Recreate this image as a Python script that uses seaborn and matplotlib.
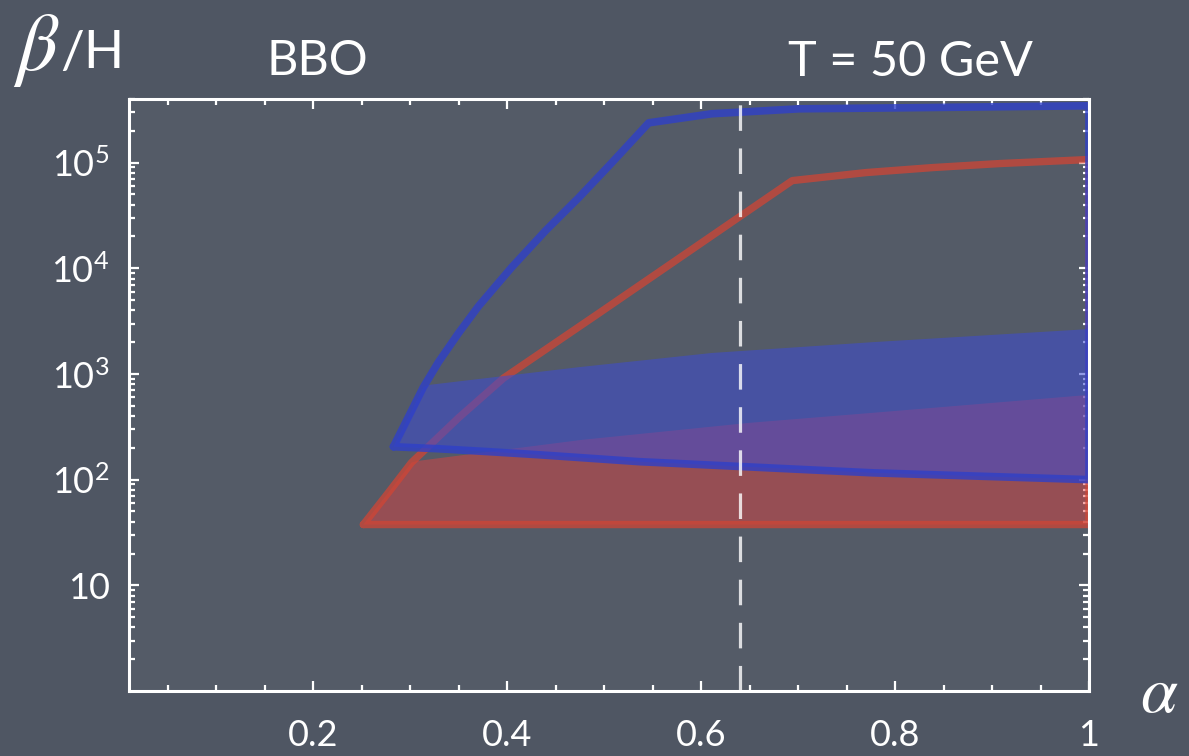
import matplotlib
matplotlib.use("Agg")
import matplotlib.pyplot as plt
import matplotlib.ticker as mticker
import pandas as pd
import seaborn as sns

# Upper edge of the red sensitivity region (alpha, beta/H); the floor is flat
red_edge_alpha = [0.2517, 0.2775, 0.3013, 0.3499, 0.3964, 0.4946, 0.5979, 0.694,
                  0.770, 0.839, 0.908, 1.0]
red_edge_beta = [37.6, 75.4, 145, 385, 916, 3760, 16800, 67600,
                 80500, 89800, 98000, 107000]
red_floor_beta = 37.6

# Blue sensitivity region: upper edge and lower edge
blue_edge_alpha = [0.2827, 0.2982, 0.3137, 0.3292, 0.3499, 0.3705, 0.4046, 0.4398,
                   0.474, 0.508, 0.546, 0.611, 0.701, 0.805, 1.0]
blue_edge_beta = [205, 393, 754, 1297, 2440, 4385, 10200, 22800,
                  46800, 100000, 238000, 290000, 323000, 330000, 345000]
blue_floor_alpha = [0.2827, 0.329, 0.381, 0.4326, 0.536, 0.777, 1.0]
blue_floor_beta = [205, 196, 184, 172, 148, 116, 100]

# Upper edges of the shaded prediction bands
blue_band_alpha = [0.3189, 0.474, 0.611, 0.777, 1.0]
blue_band_beta = [787, 1160, 1580, 2000, 2660]
red_band_alpha = [0.307, 0.357, 0.477, 0.580, 0.650, 0.777, 1.0]
red_band_beta = [150, 172, 238, 297, 345, 429, 634]

alpha_marker = 0.64

x_ticks = [0.2, 0.4, 0.6, 0.8, 1.0]
x_tick_labels = ["0.2", "0.4", "0.6", "0.8", "1"]
y_ticks = [10, 1e2, 1e3, 1e4, 1e5]
y_tick_labels = ["10", r"$10^{2}$", r"$10^{3}$", r"$10^{4}$", r"$10^{5}$"]

BG_OUT = "#4f5663"
BG_IN = "#545b67"
BLUE_LINE = "#2f40c8"
BLUE_FILL = "#3d4cd2"
RED_LINE = "#d04535"
RED_FILL = "#e8403f"
WHITE = "#ffffff"

sns.set_theme(style="ticks")
plt.rcParams["font.family"] = ["Lato", "DejaVu Sans"]
plt.rcParams["font.weight"] = "normal"
plt.rcParams["mathtext.default"] = "regular"

fig = plt.figure(figsize=(11.89, 7.56), dpi=100)
fig.patch.set_facecolor(BG_OUT)
ax = fig.add_axes([129 / 1189, 1 - 691 / 756, 960 / 1189, 592 / 756])
ax.set_facecolor(BG_IN)
ax.set_yscale("log")
ax.set_xlim(0.01, 1.0)
ax.set_ylim(1, 4e5)

# Shaded bands, each bounded on the left by its region's edge
red_lead = [(a, b) for a, b in zip(red_edge_alpha, red_edge_beta) if a < red_band_alpha[0]]
red_px = [p[0] for p in red_lead] + red_band_alpha + [1.0, red_edge_alpha[0]]
red_py = [p[1] for p in red_lead] + red_band_beta + [red_floor_beta, red_floor_beta]
ax.fill(red_px, red_py, color=RED_FILL, alpha=0.45, lw=0, zorder=1)

# Red region outline
red_outline = pd.DataFrame({
    "alpha": red_edge_alpha + [1.0, red_edge_alpha[0], red_edge_alpha[0]],
    "beta": red_edge_beta + [red_floor_beta, red_floor_beta, red_edge_beta[0]],
})
sns.lineplot(data=red_outline, x="alpha", y="beta", sort=False, estimator=None,
             color=RED_LINE, alpha=0.75, lw=5.3, ax=ax, zorder=2,
             solid_joinstyle="round")

blue_lead = [(a, b) for a, b in zip(blue_edge_alpha, blue_edge_beta) if a < blue_band_alpha[0]]
blue_px = [p[0] for p in blue_lead] + blue_band_alpha + blue_floor_alpha[::-1]
blue_py = [p[1] for p in blue_lead] + blue_band_beta + blue_floor_beta[::-1]
ax.fill(blue_px, blue_py, color=BLUE_FILL, alpha=0.56, lw=0, zorder=3)

# Blue region outline
blue_outline = pd.DataFrame({
    "alpha": blue_edge_alpha + blue_floor_alpha[::-1],
    "beta": blue_edge_beta + blue_floor_beta[::-1],
})
sns.lineplot(data=blue_outline, x="alpha", y="beta", sort=False, estimator=None,
             color=BLUE_LINE, alpha=0.8, lw=5.5, ax=ax, zorder=4,
             solid_joinstyle="round")

# Reference value of alpha
ax.axvline(alpha_marker, color="white", lw=2.3, alpha=0.8, dashes=(8, 5.5), zorder=5)

# Axes styling
for s in ax.spines.values():
    s.set_color(WHITE)
    s.set_linewidth(2.2)
    s.set_zorder(6)
ax.set_xticks(x_ticks, x_tick_labels)
ax.set_yticks(y_ticks, y_tick_labels)
ax.xaxis.set_minor_locator(mticker.MultipleLocator(0.05))
ax.yaxis.set_minor_locator(mticker.LogLocator(base=10, subs=range(2, 10), numticks=20))
ax.yaxis.set_minor_formatter(mticker.NullFormatter())
ax.tick_params(which="both", direction="in", top=True, right=True,
               colors=WHITE, width=1.6)
ax.tick_params(which="major", length=7)
ax.tick_params(which="minor", length=4)
ax.tick_params(axis="x", which="major", labelsize=26, pad=20, labelcolor=WHITE)
ax.tick_params(axis="y", which="major", labelsize=26, pad=14, labelcolor=WHITE)
ax.set_xlabel("")
ax.set_ylabel("")

# Headings and axis symbols
fig.text(16 / 1189, 1 - 70 / 756, "β", family="STIXGeneral", style="italic",
         fontsize=58, color=WHITE, ha="left", va="baseline")
fig.text(60 / 1189, 1 - 68 / 756, "/H", fontsize=38, color=WHITE,
         ha="left", va="baseline")
fig.text(317 / 1189, 1 - 75 / 756, "BBO", fontsize=35, color=WHITE,
         ha="center", va="baseline")
fig.text(910 / 1189, 1 - 76 / 756, "T = 50 GeV", fontsize=35, color=WHITE,
         ha="center", va="baseline")
fig.text(1140 / 1189, 1 - 712 / 756, "α", family="STIXGeneral", style="italic",
         fontsize=48, color=WHITE, ha="left", va="baseline")

fig.savefig("out.png", dpi=100, facecolor=fig.get_facecolor())
